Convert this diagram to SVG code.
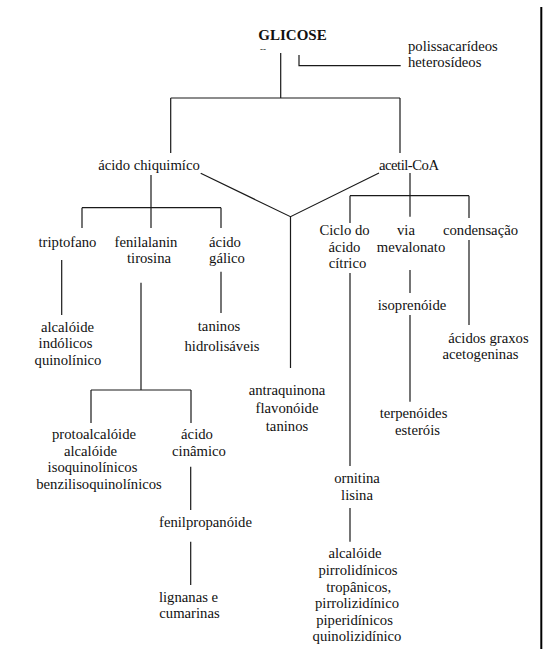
<svg xmlns="http://www.w3.org/2000/svg" width="553" height="649" viewBox="0 0 553 649">
<style>
text{font-family:"Liberation Serif","DejaVu Serif",serif;font-size:14.7px;fill:#111}
.c{text-anchor:middle}
.b{font-weight:bold;font-size:15px}
.ln{stroke:#1a1a1a;stroke-width:1.2;fill:none}
</style>
<rect width="553" height="649" fill="#fff"/>
<line x1="541.3" y1="7" x2="541.3" y2="649" stroke="#000" stroke-width="2"/>
<g id="connectors" class="ln">
<path d="M280.7 53V98M170.7 98H400M170.7 98V153M400 98V153"/>
<path d="M299 55V65.7H400.7"/>
<path d="M200.7 173.3L290.5 216.7L379 173M290.5 216.7V368"/>
<path d="M151 175V228M82 207.7H221M82 207.7V228M221 207.7V228"/>
<path d="M61.7 260V315M141 282.7V390M91 390H191M91 390V423M191 390V423M221 271.7V313"/>
<path d="M190.7 466.7V510M190.7 541.7V585"/>
<path d="M410 173V216.7M350 195.7H469M350 195.7V223M469 195.7V218"/>
<path d="M350 273V466M410 270V293M410 315V401.7M469 240V325M350 508V541.7"/>
</g>
<g font-family="Liberation Serif, DejaVu Serif, serif">
<g id="glicose"><text class="c b" x="292.5" y="40">GLICOSE</text><text x="260" y="52" style="font-size:9px">--</text></g>
<g id="polissacarideos"><text x="408" y="51">polissacarídeos</text><text x="408" y="67">heterosídeos</text></g>
<g id="acido-chiquimico"><text class="c" x="149" y="170">ácido chiquimíco</text></g>
<g id="acetil-coa"><text x="379" y="169.5" textLength="60" lengthAdjust="spacing">acetil-CoA</text></g>
<g id="triptofano"><text class="c" x="67.5" y="246.7">triptofano</text></g>
<g id="fenilalanin"><text class="c" x="146" y="246.7">fenilalanin</text><text class="c" x="149" y="262.7">tirosina</text></g>
<g id="acido-galico"><text class="c" x="225" y="246.7">ácido</text><text class="c" x="227" y="262.7">gálico</text></g>
<g id="alcaloide-indolicos"><text class="c" x="67.5" y="331.7">alcalóide</text><text class="c" x="65.5" y="348.2">indólicos</text><text class="c" x="68" y="364.8">quinolínico</text></g>
<g id="taninos-hidrolisaveis"><text class="c" x="219" y="331">taninos</text><text class="c" x="222" y="351">hidrolisáveis</text></g>
<g id="antraquinona"><text class="c" x="287" y="395">antraquinona</text><text class="c" x="287" y="412.7">flavonóide</text><text class="c" x="287" y="430.5">taninos</text></g>
<g id="protoalcaloide"><text class="c" x="94" y="439">protoalcalóide</text><text class="c" x="90.5" y="456">alcalóide</text><text class="c" x="92.5" y="472">isoquinolínicos</text><text class="c" x="99" y="489">benzilisoquinolínicos</text></g>
<g id="acido-cinamico"><text class="c" x="197" y="439">ácido</text><text class="c" x="199" y="456">cinâmico</text></g>
<g id="fenilpropanoide"><text class="c" x="205.5" y="527">fenilpropanóide</text></g>
<g id="lignanas"><text class="c" x="188.5" y="601.7">lignanas e</text><text class="c" x="189.5" y="618">cumarinas</text></g>
<g id="ciclo"><text class="c" x="344.5" y="235">Ciclo do</text><text class="c" x="344.5" y="251.5">ácido</text><text class="c" x="347.5" y="267.5">cítrico</text></g>
<g id="via-mevalonato"><text class="c" x="406" y="235">via</text><text class="c" x="411" y="251.5">mevalonato</text></g>
<g id="condensacao"><text class="c" x="480.5" y="235">condensação</text></g>
<g id="isoprenoide"><text class="c" x="412" y="310">isoprenóide</text></g>
<g id="acidos-graxos"><text class="c" x="488.5" y="342.7">ácidos graxos</text><text class="c" x="480.5" y="358.5">acetogeninas</text></g>
<g id="terpenoides"><text class="c" x="413.5" y="418">terpenóides</text><text class="c" x="417.5" y="435">esteróis</text></g>
<g id="ornitina"><text class="c" x="357" y="483">ornitina</text><text class="c" x="357" y="500">lisina</text></g>
<g id="alcaloide-pirrolidinicos"><text class="c" x="355" y="558">alcalóide</text><text class="c" x="358" y="575">pirrolidínicos</text><text class="c" x="358.7" y="591.7">tropânicos,</text><text class="c" x="357" y="608">pirrolizidínico</text><text class="c" x="354.5" y="625">piperidínicos</text><text class="c" x="357" y="641">quinolizidínico</text></g>
</g>
</svg>
